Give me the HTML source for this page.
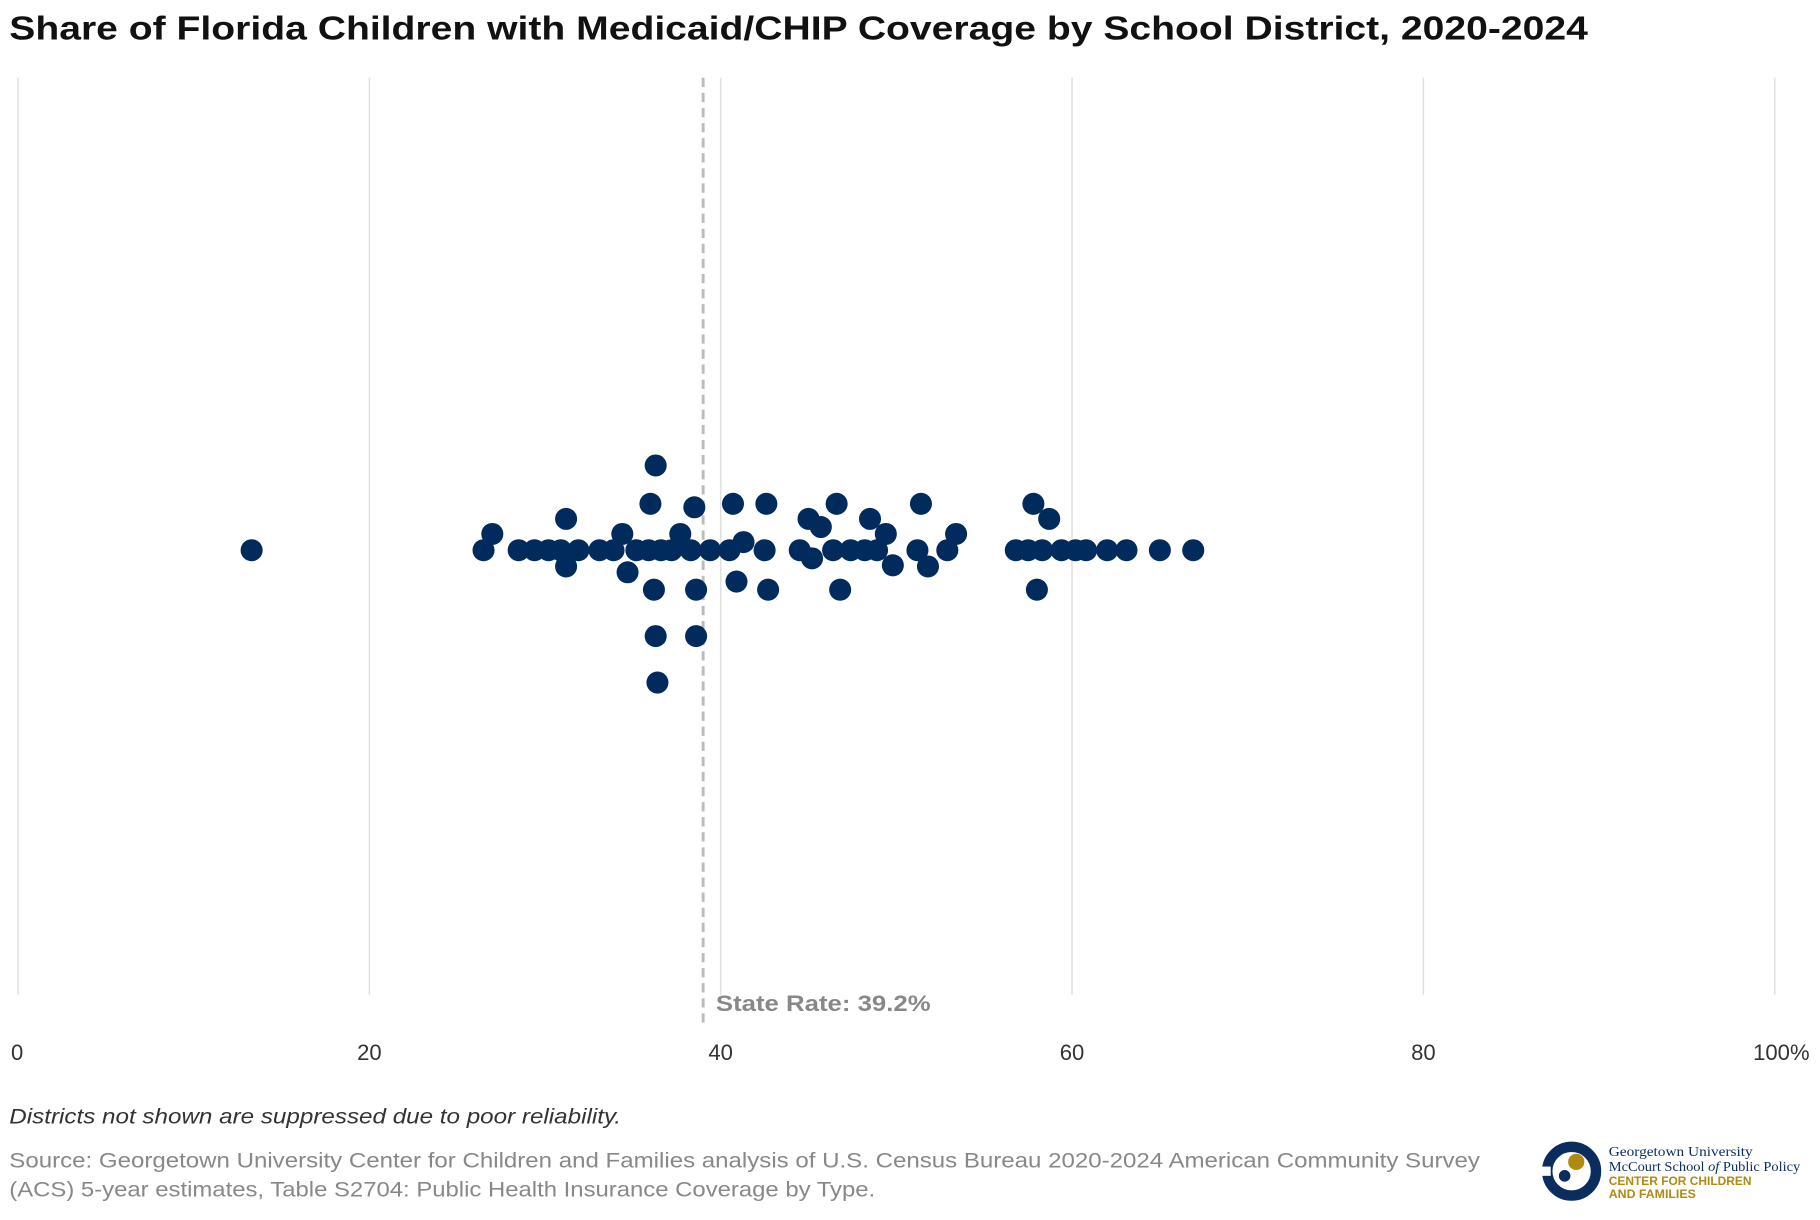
<!DOCTYPE html>
<html><head><meta charset="utf-8"><style>
html,body{margin:0;padding:0;background:#fff;}
svg{display:block;font-family:"Liberation Sans",Arial,sans-serif;}
</style></head><body>
<svg width="1820" height="1220" viewBox="0 0 1568 1051" xmlns="http://www.w3.org/2000/svg">
<text x="8" y="34" font-size="28.5" fill="#111" textLength="1360" lengthAdjust="spacingAndGlyphs" font-weight="bold">Share of Florida Children with Medicaid/CHIP Coverage by School District, 2020-2024</text>
<g id="grid"></g>
<g id="ref"></g>
<g id="dots"></g>
<g id="ticks"></g>
<text x="8" y="968" font-size="18" font-style="italic" fill="#333" textLength="527" lengthAdjust="spacingAndGlyphs">Districts not shown are suppressed due to poor reliability.</text>
<text x="8" y="1006" font-size="18" fill="#888" textLength="1267" lengthAdjust="spacingAndGlyphs">Source: Georgetown University Center for Children and Families analysis of U.S. Census Bureau 2020-2024 American Community Survey</text>
<text x="8" y="1031" font-size="18" fill="#888" textLength="746" lengthAdjust="spacingAndGlyphs">(ACS) 5-year estimates, Table S2704: Public Health Insurance Coverage by Type.</text>
<g>
<circle cx="1354" cy="1009" r="21" fill="none" stroke="#0a2d5e" stroke-width="9"/>
<rect x="1328" y="1005" width="8" height="8" fill="#fff"/>
<circle cx="1358" cy="1001" r="7" fill="#b08a10"/>
<circle cx="1348" cy="1013" r="5" fill="#0a2d5e"/>
<text x="1386" y="996" font-size="12" fill="#0a2d5e" font-family="Liberation Serif,serif" textLength="124" lengthAdjust="spacingAndGlyphs">Georgetown University</text>
<text x="1386" y="1009" font-size="12" fill="#0a2d5e" font-family="Liberation Serif,serif" textLength="165" lengthAdjust="spacingAndGlyphs">McCourt School <tspan font-style="italic">of</tspan> Public Policy</text>
<text x="1386" y="1021" font-size="10" fill="#b08a10" font-weight="bold" textLength="123" lengthAdjust="spacingAndGlyphs">CENTER FOR CHILDREN</text>
<text x="1386" y="1032" font-size="10" fill="#b08a10" font-weight="bold" textLength="75" lengthAdjust="spacingAndGlyphs">AND FAMILIES</text>
</g>
</svg>
<script>
const tickValues=[0,20,40,60,80,100];
const tickLabels=["0","20","40","60","80","100%"];
const stateRate=39.2;
const values=[13.3,26.5,27.0,28.5,29.4,30.2,30.9,31.2,31.2,31.9,33.1,33.9,34.4,34.7,35.2,36.0,36.3,35.9,36.2,36.3,36.4,36.6,37.2,37.7,38.3,38.5,38.6,38.6,39.4,40.5,40.7,40.9,41.3,42.5,42.6,42.7,44.5,45.0,45.2,45.7,46.4,46.6,46.8,47.4,48.2,48.5,48.9,49.4,49.8,51.2,51.4,51.8,52.9,53.4,56.8,57.5,57.8,58.0,58.3,58.7,59.4,60.2,60.8,62.0,63.1,65.0,66.9];
const swarmOffset=[0,0,-14,0,0,0,0,-27,14,0,0,0,-14,19,0,-40,-73,0,34,74,114,0,0,-14,0,-37,34,74,0,0,-40,27,-7,0,-40,34,0,-27,7,-20,0,-40,34,0,0,-27,0,-14,13,0,-40,14,0,-14,0,0,-40,34,0,-27,0,0,0,0,0,0,0];
const NS="http://www.w3.org/2000/svg";
const x0=15.5,x1=1529,yTop=67,yBot=857,yMid=474;
function xs(v){return x0+(x1-x0)*v/100;}
function mk(t,a,p){const e=document.createElementNS(NS,t);for(const k in a)e.setAttribute(k,a[k]);document.getElementById(p).appendChild(e);return e;}
tickValues.forEach((v,i)=>{
 const l=mk('line',{x1:xs(v),x2:xs(v),y1:yTop,y2:yBot,stroke:'#e0e0e0','stroke-width':1.3},'grid');
 
 
 const t=mk('text',{x:xs(v),y:913,'font-size':19,fill:'#333','text-anchor':i==0?'start':(i==tickValues.length-1?'end':'middle')},'ticks');
 if(i==0)t.setAttribute('x',xs(v)-6);
 if(i==tickValues.length-1)t.setAttribute('x',xs(v)+30);
 t.textContent=tickLabels[i];
 
 
});
const rl=mk('line',{x1:xs(stateRate)-3,x2:xs(stateRate)-3,y1:yTop,y2:884,stroke:'#bbb','stroke-width':2.5,'stroke-dasharray':'8,5'},'ref');


const rt=mk('text',{x:xs(stateRate)+8,y:871,'font-size':19,fill:'#888','font-weight':'bold',textLength:185,lengthAdjust:'spacingAndGlyphs'},'ref');
rt.textContent='State Rate: '+stateRate+'%';


values.forEach((v,i)=>{
 const c=mk('circle',{cx:xs(v),cy:yMid+swarmOffset[i],r:9.5,fill:'#002b5c'},'dots');
 
 
});
</script>
</body></html>
